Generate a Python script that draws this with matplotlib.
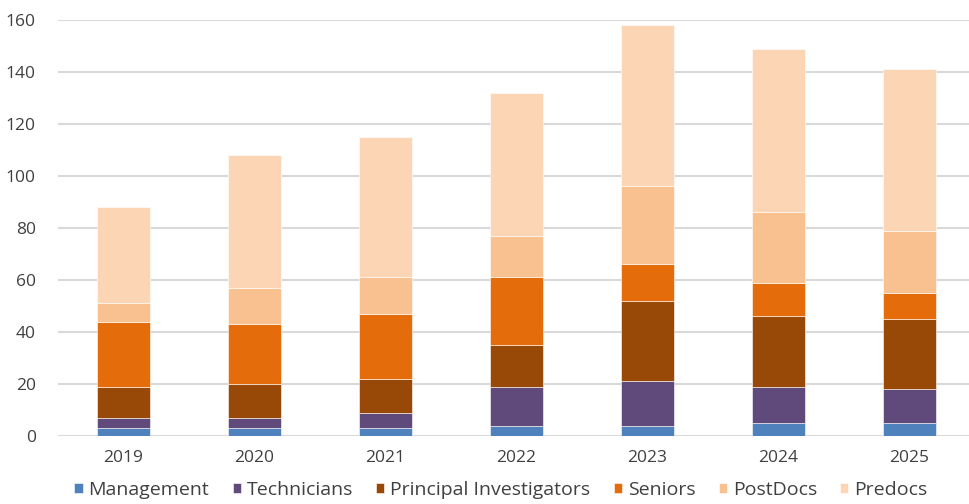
import matplotlib
matplotlib.use("Agg")
import matplotlib.pyplot as plt
import numpy as np

years = ["2019", "2020", "2021", "2022", "2023", "2024", "2025"]
management = [3, 3, 3, 4, 4, 5, 5]
technicians = [4, 4, 6, 15, 17, 14, 13]
principal_investigators = [12, 13, 13, 16, 31, 27, 27]
seniors = [25, 23, 25, 26, 14, 13, 10]
postdocs = [7, 14, 14, 16, 30, 27, 24]
predocs = [37, 51, 54, 55, 62, 63, 62]

series_names = ["Management", "Technicians", "Principal Investigators", "Seniors", "PostDocs", "Predocs"]
series_values = [management, technicians, principal_investigators, seniors, postdocs, predocs]
colors = ["#4F81BD", "#604A7B", "#984807", "#E46C0A", "#F9C090", "#FCD5B5"]
yticks = [0, 20, 40, 60, 80, 100, 120, 140, 160]

plt.rcParams['font.family'] = ['Open Sans', 'DejaVu Sans']
text_color = "#404040"

fig = plt.figure(figsize=(9.69, 5.04), dpi=100)
ax = fig.add_axes([58/969, 1 - 436/504, 1 - 58/969, 416/504])

x = np.arange(len(years))
bottom = np.zeros(len(years))
for name, vals, c in zip(series_names, series_values, colors):
    ax.bar(x, vals, width=0.405, bottom=bottom, color=c, label=name, zorder=3,
           edgecolor="white", linewidth=0.4)
    bottom += np.array(vals)

ax.set_ylim(0, 160)
ax.set_xlim(-0.5, 6.5 - 6/131)
ax.set_yticks(yticks)
ax.set_xticks(x)
ax.set_xticklabels(years)
ax.yaxis.grid(True, color="#D9D9D9", linewidth=1.5, zorder=0)
ax.set_axisbelow(True)
for s in ax.spines.values():
    s.set_visible(False)
ax.tick_params(axis='both', length=0, labelsize=12.5, colors=text_color)
ax.tick_params(axis='y', pad=16)
ax.tick_params(axis='x', pad=10)

handles, labels = ax.get_legend_handles_labels()
leg = fig.legend(handles, labels, loc="center", bbox_to_anchor=(501/969, 1 - 490/504), ncol=6,
                 frameon=False, fontsize=14, handlelength=0.42, handleheight=0.42,
                 handletextpad=0.3, columnspacing=1.2, labelcolor=text_color)

fig.savefig("out.png", dpi=100)
